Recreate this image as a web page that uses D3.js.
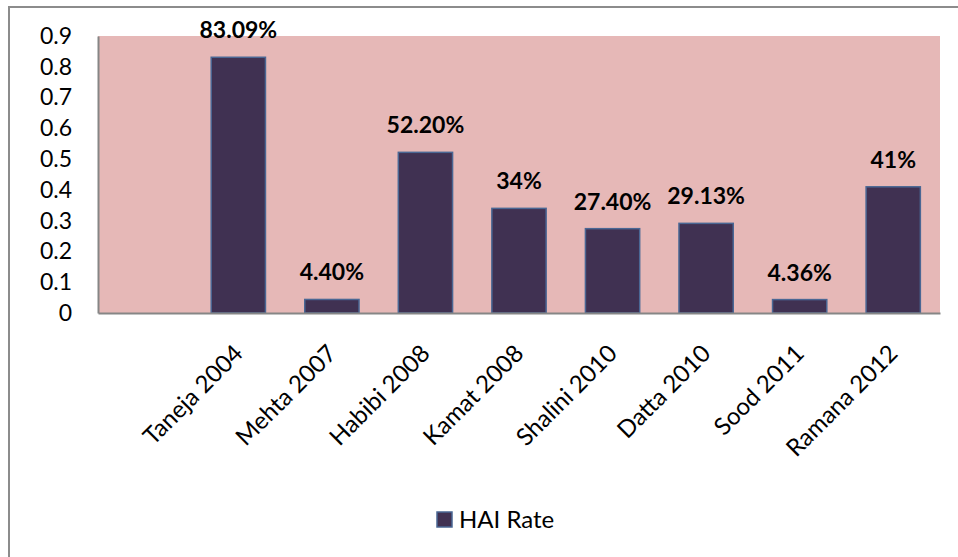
<!DOCTYPE html>
<html>
<head>
<meta charset="utf-8">
<script src="https://cdn.jsdelivr.net/npm/d3@7/dist/d3.min.js"></script>
<style>
  html, body { margin: 0; padding: 0; background: #ffffff; }
  svg { display: block; font-family: Lato, "Open Sans", sans-serif; }
</style>
</head>
<body>
<svg id="chart" width="958" height="557"></svg>
<script>
// ---- data ----
const categories = ["", "Taneja 2004", "Mehta 2007", "Habibi 2008", "Kamat 2008", "Shalini 2010", "Datta 2010", "Sood 2011", "Ramana 2012"];
const values = [null, 0.8309, 0.044, 0.522, 0.34, 0.274, 0.2913, 0.0436, 0.41];
const valueLabels = ["", "83.09%", "4.40%", "52.20%", "34%", "27.40%", "29.13%", "4.36%", "41%"];
const yTicks = [0, 0.1, 0.2, 0.3, 0.4, 0.5, 0.6, 0.7, 0.8, 0.9];
const seriesName = "HAI Rate";

const svg = d3.select("#chart");
const W = 958, H = 557;
const plot = { left: 98, right: 940, top: 36, bottom: 313 };

// outer chart border
svg.append("path")
  .attr("d", `M${W + 5},7 H9 V${H + 5}`)
  .attr("fill", "none").attr("stroke", "#8c8c8c").attr("stroke-width", 2);

const x = d3.scaleBand()
  .domain(d3.range(categories.length))
  .range([plot.left, plot.right])
  .paddingInner(0.42).paddingOuter(0.21);

const y = d3.scaleLinear().domain([0, 0.9]).range([plot.bottom, plot.top]);

// plot background
svg.append("rect")
  .attr("x", plot.left).attr("y", plot.top)
  .attr("width", plot.right - plot.left).attr("height", plot.bottom - plot.top)
  .attr("fill", "#e6b8b7");

// bars
const data = categories.map((c, i) => ({ i, c, v: values[i], label: valueLabels[i] })).filter(d => d.v != null);
svg.append("g").selectAll("rect").data(data).join("rect")
  .attr("x", d => x(d.i)).attr("y", d => y(d.v))
  .attr("width", x.bandwidth()).attr("height", d => y(0) - y(d.v))
  .attr("fill", "#403152").attr("stroke", "#4a6794").attr("stroke-width", 1.5);

// data labels
svg.append("g").selectAll("text").data(data).join("text")
  .attr("x", d => x(d.i) + x.bandwidth() / 2)
  .attr("y", d => y(d.v) - 19)
  .attr("text-anchor", "middle")
  .attr("font-size", 23).attr("font-weight", "bold").attr("fill", "#000")
  .text(d => d.label);

// y axis
const yAxis = svg.append("g").attr("transform", `translate(${plot.left},0)`)
  .call(d3.axisLeft(y).tickValues(yTicks).tickSize(0).tickPadding(26).tickFormat(d => d === 0 ? "0" : d3.format(".1f")(d)));
yAxis.select(".domain").attr("stroke", "#868686").attr("stroke-width", 2);
yAxis.selectAll("text").attr("font-size", 23).attr("fill", "#000").attr("font-family", "Lato, sans-serif");

// x axis
const xAxis = svg.append("g").attr("transform", `translate(0,${plot.bottom})`)
  .call(d3.axisBottom(x).tickSize(0).tickFormat(i => categories[i]));
xAxis.select(".domain").attr("stroke", "#868686").attr("stroke-width", 2);
xAxis.selectAll("text")
  .attr("font-size", 24).attr("fill", "#000").attr("font-family", "Lato, sans-serif")
  .attr("text-anchor", "end")
  .attr("dy", null)
  .attr("transform", "translate(6,42) rotate(-45)")
  .attr("y", 0).attr("x", 0);

// legend
const lg = svg.append("g").attr("transform", "translate(437,512)");
lg.append("rect").attr("width", 15).attr("height", 15)
  .attr("fill", "#403152").attr("stroke", "#4a6794").attr("stroke-width", 1.5);
lg.append("text").attr("x", 22).attr("y", 15.5)
  .attr("font-size", 24).attr("fill", "#000").text(seriesName);
</script>
</body>
</html>
